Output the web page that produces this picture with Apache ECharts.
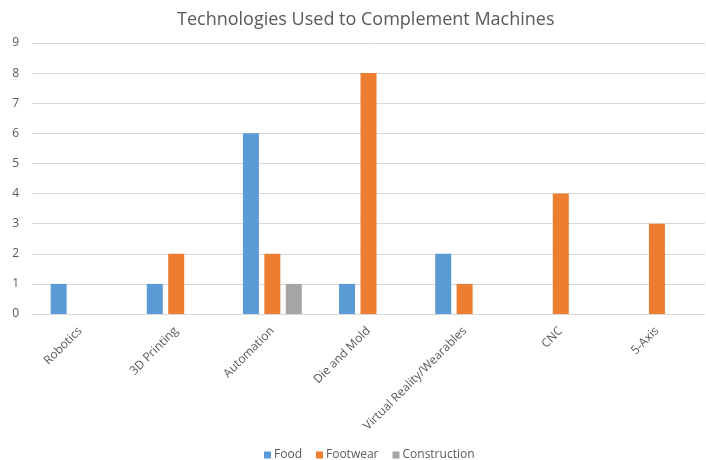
<!DOCTYPE html>
<html><head><meta charset="utf-8">
<script src="https://cdn.jsdelivr.net/npm/echarts@6/dist/echarts.min.js"></script>
<style>html,body{margin:0;padding:0;background:#fff}#c{width:706px;height:460px}</style>
</head><body><div id="c"></div>
<script>
const categories = ["Robotics","3D Printing","Automation","Die and Mold","Virtual Reality/Wearables","CNC","5-Axis"];
const food = [1,1,6,1,2,null,null];
const footwear = [null,2,2,8,1,4,3];
const construction = [null,null,1,null,null,null,null];
const yTicks = [0,1,2,3,4,5,6,7,8,9];

const font = "'Open Sans', 'Liberation Sans', sans-serif";
const chart = echarts.init(document.getElementById('c'), null, {renderer:'canvas'});
const mk = (name, data, color) => ({
  name, type:'bar', data, barWidth:16, barGap:'34%',
  itemStyle:{color}, animation:false
});
chart.setOption({
  animation:false,
  title:{text:'Technologies Used to Complement Machines', left:172, top:6,
    textStyle:{fontFamily:font, fontSize:18, fontWeight:'normal', color:'#595959'}},
  legend:{top:444, left:259, itemWidth:7, itemHeight:7, itemGap:14,
    icon:'rect', textStyle:{fontFamily:font, fontSize:12, color:'#595959', padding:[0,0,0,-2]}},
  grid:{left:32, right:1, top:43, bottom:146, containLabel:false},
  xAxis:{type:'category', data:categories,
    axisLine:{lineStyle:{color:'#d9d9d9'}}, axisTick:{show:false},
    axisLabel:{rotate:45, interval:0, fontFamily:font, fontSize:12, color:'#595959', margin:15}},
  yAxis:{type:'value', min:yTicks[0], max:yTicks[yTicks.length-1], interval:1,
    axisLine:{show:false}, axisTick:{show:false},
    axisLabel:{fontFamily:font, fontSize:12, color:'#595959', margin:13},
    splitLine:{lineStyle:{color:'#d9d9d9'}}},
  series:[mk('Food',food,'#5b9bd5'), mk('Footwear',footwear,'#ed7d31'), mk('Construction',construction,'#a5a5a5')]
});
</script></body></html>
